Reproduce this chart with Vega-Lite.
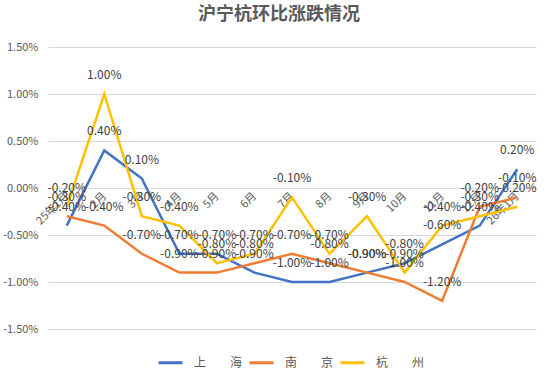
{
  "$schema": "https://vega.github.io/schema/vega-lite/v6.json",
  "width": 488,
  "height": 282,
  "autosize": {"type": "none"},
  "padding": {"left": 48, "top": 47, "right": 18, "bottom": 47},
  "background": "white",
  "title": {"text": "沪宁杭环比涨跌情况", "fontSize": 18, "font": "Noto Sans CJK SC", "fontWeight": "bold", "color": "#595959", "offset": 17, "dx": -13},
  "config": {
    "locale": {"number": {"decimal": ".", "thousands": ",", "grouping": [3], "currency": ["$", ""], "minus": "-"}},
    "font": "Noto Sans CJK SC",
    "view": {"stroke": null}
  },
  "data": {"values": [
    {"月份": "25年1月", "城市": "上海", "值": -0.004},
    {"月份": "2月", "城市": "上海", "值": 0.004},
    {"月份": "3月", "城市": "上海", "值": 0.001},
    {"月份": "4月", "城市": "上海", "值": -0.007},
    {"月份": "5月", "城市": "上海", "值": -0.007},
    {"月份": "6月", "城市": "上海", "值": -0.009},
    {"月份": "7月", "城市": "上海", "值": -0.010},
    {"月份": "8月", "城市": "上海", "值": -0.010},
    {"月份": "9月", "城市": "上海", "值": -0.009},
    {"月份": "10月", "城市": "上海", "值": -0.008},
    {"月份": "11月", "城市": "上海", "值": -0.006},
    {"月份": "12月", "城市": "上海", "值": -0.004},
    {"月份": "26年1月", "城市": "上海", "值": 0.002},
    {"月份": "25年1月", "城市": "南京", "值": -0.003},
    {"月份": "2月", "城市": "南京", "值": -0.004},
    {"月份": "3月", "城市": "南京", "值": -0.007},
    {"月份": "4月", "城市": "南京", "值": -0.009},
    {"月份": "5月", "城市": "南京", "值": -0.009},
    {"月份": "6月", "城市": "南京", "值": -0.008},
    {"月份": "7月", "城市": "南京", "值": -0.007},
    {"月份": "8月", "城市": "南京", "值": -0.008},
    {"月份": "9月", "城市": "南京", "值": -0.009},
    {"月份": "10月", "城市": "南京", "值": -0.010},
    {"月份": "11月", "城市": "南京", "值": -0.012},
    {"月份": "12月", "城市": "南京", "值": -0.002},
    {"月份": "26年1月", "城市": "南京", "值": -0.001},
    {"月份": "25年1月", "城市": "杭州", "值": -0.002},
    {"月份": "2月", "城市": "杭州", "值": 0.010},
    {"月份": "3月", "城市": "杭州", "值": -0.003},
    {"月份": "4月", "城市": "杭州", "值": -0.004},
    {"月份": "5月", "城市": "杭州", "值": -0.008},
    {"月份": "6月", "城市": "杭州", "值": -0.007},
    {"月份": "7月", "城市": "杭州", "值": -0.001},
    {"月份": "8月", "城市": "杭州", "值": -0.007},
    {"月份": "9月", "城市": "杭州", "值": -0.003},
    {"月份": "10月", "城市": "杭州", "值": -0.009},
    {"月份": "11月", "城市": "杭州", "值": -0.004},
    {"月份": "12月", "城市": "杭州", "值": -0.003},
    {"月份": "26年1月", "城市": "杭州", "值": -0.002}
  ]},
  "encoding": {
    "x": {
      "field": "月份", "type": "ordinal", "sort": null,
      "scale": {"type": "point", "padding": 0.5},
      "axis": {"title": null, "offset": -141, "labelAngle": -45, "labelAlign": "right", "labelBaseline": "middle", "domain": false, "ticks": false, "grid": false, "labelFontSize": 11, "labelColor": "#595959", "labelPadding": 6, "labelFont": "Noto Sans CJK SC"}
    },
    "y": {
      "field": "值", "type": "quantitative",
      "scale": {"domain": [-0.015, 0.015], "nice": false},
      "axis": {"title": null, "values": [-0.015, -0.01, -0.005, 0, 0.005, 0.01, 0.015], "format": ".2%", "domain": false, "ticks": false, "gridColor": "#d9d9d9", "labelPadding": 10, "labelFontSize": 11, "labelColor": "#595959", "labelFont": "Noto Sans CJK SC"}
    }
  },
  "layer": [
    {
      "mark": {"type": "line", "strokeWidth": 2.5},
      "encoding": {
        "color": {
          "field": "城市", "type": "nominal",
          "scale": {"domain": ["上海", "南京", "杭州"], "range": ["#4472C4", "#ED7D31", "#FFC000"]},
          "legend": {"title": null, "orient": "none", "legendX": 109, "legendY": 302, "direction": "horizontal", "symbolType": "stroke", "symbolSize": 576, "symbolStrokeWidth": 3, "labelFontSize": 12, "labelColor": "#595959", "columnPadding": 0, "labelOffset": 10, "labelExpr": "substring(datum.label,0,1)+'\u3000\u3000'+substring(datum.label,1)"}
        }
      }
    },
    {
      "mark": {"type": "text", "dy": -19, "fontSize": 12, "color": "#404040", "font": "Noto Sans CJK SC"},
      "encoding": {
        "detail": {"field": "城市", "type": "nominal"},
        "text": {"field": "值", "type": "quantitative", "format": ".2%"}
      }
    }
  ]
}
